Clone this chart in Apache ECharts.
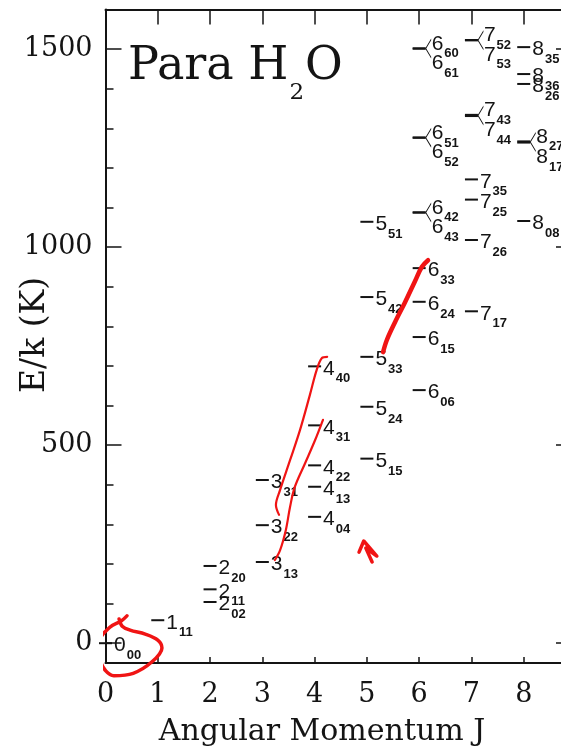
<!DOCTYPE html>
<html><head><meta charset="utf-8">
<script src="https://cdn.jsdelivr.net/npm/echarts@6/dist/echarts.min.js"></script>
<style>html,body{margin:0;padding:0;background:#fff}#c{width:561px;height:749px}</style>
</head><body><div id="c"></div>
<script>
// ---- data ----
const levelJ    = [0, 1, 2, 2, 2, 3, 3, 3, 4, 4, 4, 4, 4, 5, 5, 5, 5, 5, 6, 6, 6, 6, 6, 6, 6, 6, 6, 6, 7, 7, 7, 7, 7, 7, 7, 7, 8, 8, 8, 8, 8, 8];
const levelKaKc = ['00','11','02','11','20','13','22','31','04','13','22','31','40','15','24','33','42','51','06','15','24','33','42','43','51','52','60','61','17','26','25','35','43','44','52','53','08','27','17','26','36','35'];
const levelE    = [0, 58, 104, 136, 195, 205, 298, 412, 319, 395, 449, 550, 699, 466, 597, 723, 874, 1064, 639, 773, 862, 947, 1088, 1087, 1277, 1276, 1502, 1501, 838, 1018, 1120, 1171, 1334, 1331, 1523, 1522, 1066, 1267, 1264, 1412, 1437, 1505];
// near-degenerate pairs drawn with a brace: [J, upper KaKc, lower KaKc]
const pairs = [[6,'60','61'],[7,'52','53'],[7,'43','44'],[6,'51','52'],[6,'42','43'],[8,'27','17']];

const yMajorTicks = [0, 500, 1000, 1500];
const yMinorTicks = [100,200,300,400,600,700,800,900,1100,1200,1300,1400];
const xTickLabels = ['0','1','2','3','4','5','6','7','8'];

// red hand-drawn annotations, [J, E]
const annotLoop = [[0.41,69],[0.30,56],[0.09,41],[-0.12,3],[-0.09,-47],[0.16,-82],[0.53,-76],[0.89,-47],[1.08,-12],[1.00,8],[0.76,23],[0.47,33],[0.32,43],[0.26,61]];
const annotLineA = [[3.24,210],[3.34,235],[3.45,286],[3.53,344],[3.62,394],[3.82,455],[4.01,513],[4.16,564]];
const annotLineB = [[3.32,324],[3.26,349],[3.34,387],[3.53,462],[3.72,538],[3.91,627],[4.04,690],[4.14,720],[4.24,723]];
const annotLineC = [[5.31,735],[5.38,765],[5.54,811],[5.73,861],[5.92,914],[6.05,950],[6.17,967]];
const annotMark  = [[4.85,230],[4.94,258],[5.19,220],[4.98,240],[5.10,205]];

// ---- chart ----
const INK = '#141414';
const SERIF = 'DejaVu Serif';
const SANS = 'Liberation Sans';
const upperSet = new Set(pairs.map(p => p[0] + '_' + p[1]));
const lowerSet = new Set(pairs.map(p => p[0] + '_' + p[2]));

const single = [], upper = [], lower = [];
levelJ.forEach((j, i) => {
  const key = j + '_' + levelKaKc[i];
  const item = { value: [j, levelE[i]], name: key };
  if (upperSet.has(key)) upper.push(item);
  else if (lowerSet.has(key)) lower.push(item);
  else single.push(item);
});
const braceData = pairs.map(p => {
  const i = levelJ.findIndex((j, k) => j === p[0] && levelKaKc[k] === p[1]);
  const k2 = levelJ.findIndex((j, k) => j === p[0] && levelKaKc[k] === p[2]);
  return [p[0], (levelE[i] + levelE[k2]) / 2];
});

const rich = {
  d: { fontFamily: SANS, fontSize: 21, color: INK, lineHeight: 20, padding: [3, 0, 3, 0], verticalAlign: 'top' },
  s: { fontFamily: SANS, fontSize: 13, fontWeight: 'bold', color: INK, lineHeight: 12, padding: [17, 0, 0, 1], verticalAlign: 'top' }
};
const levelSeries = (data, offset) => ({
  type: 'scatter', xAxisIndex: 0, yAxisIndex: 0, data: data,
  symbol: 'rect', symbolSize: [13, 2], itemStyle: { color: INK, opacity: 1 }, silent: true,
  label: { show: true, position: 'right', distance: 2, offset: offset, color: INK,
    formatter: p => '{d|' + p.value[0] + '}{s|' + p.name.split('_')[1] + '}', rich: rich }
});
const annotStyle = (w, data, smooth) => ({
  type: 'line', data: data, symbol: 'none', smooth: smooth, clip: false, silent: true,
  lineStyle: { color: '#f01414', width: w, cap: 'round', join: 'round' }, z: 10
});

const ax = { color: INK, width: 2 };
const tk = { color: INK, width: 1.5 };
const option = {
  animation: false,
  backgroundColor: '#fff',
  grid: { left: 105.5, top: 9.5, bottom: 86, right: -15, outerBoundsMode: 'none', containLabel: false },
  xAxis: [
    { type: 'value', position: 'bottom', min: 0, max: 9, interval: 1,
      axisLine: { onZero: false, lineStyle: ax },
      axisTick: { inside: true, length: 6, lineStyle: tk },
      axisLabel: { color: INK, fontFamily: SERIF, fontSize: 27, margin: 18,
        formatter: v => (v < xTickLabels.length ? xTickLabels[v] : '') },
      splitLine: { show: false } },
    { type: 'value', position: 'top', min: 0, max: 9, interval: 1,
      axisLine: { onZero: false, lineStyle: ax },
      axisTick: { inside: true, length: 15, lineStyle: tk },
      axisLabel: { show: false }, splitLine: { show: false } }
  ],
  yAxis: [
    { type: 'value', position: 'left', min: -50, max: 1600,
      axisLine: { onZero: false, lineStyle: ax },
      axisTick: { inside: true, length: 16, customValues: yMajorTicks, lineStyle: tk },
      axisLabel: { customValues: yMajorTicks, color: INK, fontFamily: SERIF, fontSize: 27, margin: 13,
        formatter: v => String(v) },
      splitLine: { show: false } },
    { type: 'value', position: 'left', min: -50, max: 1600,
      axisLine: { show: false },
      axisTick: { inside: true, length: 8, customValues: yMinorTicks, lineStyle: tk },
      axisLabel: { show: false }, splitLine: { show: false } },
    { type: 'value', position: 'right', min: -50, max: 1600,
      axisLine: { onZero: false, lineStyle: ax },
      axisTick: { inside: true, length: 20, customValues: yMajorTicks, lineStyle: tk },
      axisLabel: { show: false }, splitLine: { show: false } }
  ],
  series: [
    levelSeries(single, [0, -1]),
    levelSeries(upper, [4, -8]),
    levelSeries(lower, [4, 11]),
    { type: 'scatter', xAxisIndex: 0, yAxisIndex: 0, data: braceData, silent: true,
      symbol: 'path://M10,0 L0,10 L10,20 L10,18.2 L1.8,10 L10,1.8 Z', symbolKeepAspect: false,
      symbolSize: [6, 20], symbolOffset: [9, 0], itemStyle: { color: INK, opacity: 1 } },
    annotStyle(3.5, annotLoop, 0.35),
    annotStyle(2.2, annotLineA, 0.35),
    annotStyle(2.2, annotLineB, 0.35),
    annotStyle(4.5, annotLineC, 0.35),
    annotStyle(3.5, annotMark, false)
  ],
  graphic: [
    { type: 'text', x: 128, y: 44, silent: true,
      style: { text: '{a|Para H}{b|2}{a|O}', fill: INK, align: 'left', verticalAlign: 'top',
        rich: {
          a: { fontFamily: SERIF, fontSize: 46, lineHeight: 50, verticalAlign: 'top', fill: INK },
          b: { fontFamily: SERIF, fontSize: 23, lineHeight: 20, padding: [38, 1, 0, 1], verticalAlign: 'top', fill: INK }
        } } },
    { type: 'text', x: 322, y: 732, silent: true,
      style: { text: 'Angular Momentum J', fontFamily: SERIF, fontSize: 30, fill: INK, align: 'center', verticalAlign: 'middle' } },
    { type: 'text', x: 35, y: 335, rotation: Math.PI / 2, silent: true,
      style: { text: 'E/k (K)', fontFamily: SERIF, fontSize: 33, fill: INK, align: 'center', verticalAlign: 'middle' } }
  ]
};
const chart = echarts.init(document.getElementById('c'), null, { renderer: 'canvas' });
chart.setOption(option);
</script>
</body></html>
